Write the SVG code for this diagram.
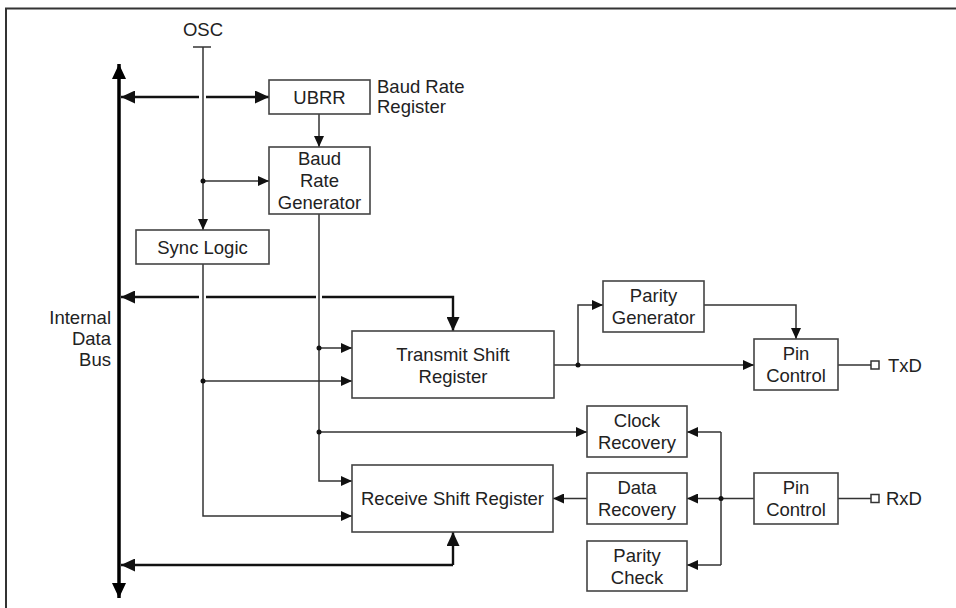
<svg xmlns="http://www.w3.org/2000/svg" width="956" height="608" viewBox="0 0 956 608">
<style>
.box{fill:#fff;stroke:#444;stroke-width:1.6}
.t{font-family:"Liberation Sans",Arial,sans-serif;font-size:18.5px;fill:#222;text-anchor:middle}
.tl{font-family:"Liberation Sans",Arial,sans-serif;font-size:18.5px;fill:#222}
.w{fill:none;stroke:#333;stroke-width:1.5}
.wa{fill:none;stroke:#333;stroke-width:1.5;marker-end:url(#ah)}
.bl{fill:none;stroke:#111;stroke-width:2.4}
.dot{fill:#111}
</style>
<defs>
<marker id="ah" viewBox="0 0 11 10" refX="11" refY="5" markerWidth="11" markerHeight="10" markerUnits="userSpaceOnUse" orient="auto"><path d="M0,0 L11,5 L0,10 z" fill="#111"/></marker>
<marker id="bh" viewBox="0 0 14 13" refX="14" refY="6.5" markerWidth="14" markerHeight="13" markerUnits="userSpaceOnUse" orient="auto-start-reverse"><path d="M0,0 L14,6.5 L0,13 z" fill="#111"/></marker>
<marker id="mh" viewBox="0 0 15 14" refX="15" refY="7" markerWidth="15" markerHeight="14" markerUnits="userSpaceOnUse" orient="auto-start-reverse"><path d="M0,0 L15,7 L0,14 z" fill="#000"/></marker>
</defs>
<rect x="0" y="0" width="956" height="608" fill="#fff"/>
<path d="M6,620 V8.5 H960" fill="none" stroke="#333" stroke-width="2"/>

<g id="connectors">
<path d="M119,598 V64" fill="none" stroke="#000" stroke-width="3.5" marker-start="url(#mh)" marker-end="url(#mh)"/>
<path class="w" d="M193,47 H211"/>
<path class="wa" d="M203,47 V230"/>
<path class="wa" d="M203,181 H269"/>
<path class="bl" d="M199,97 H121" marker-end="url(#bh)"/>
<path class="bl" d="M206,97 H269" marker-end="url(#bh)"/>
<path class="wa" d="M319,114 V147"/>
<path class="wa" d="M203,264 V516 H352"/>
<path class="wa" d="M203,381 H352"/>
<path class="wa" d="M319,214 V481 H352"/>
<path class="wa" d="M319,348 H352"/>
<path class="wa" d="M319,432 H587"/>
<path class="bl" d="M199,297 H121" marker-end="url(#bh)"/>
<path class="bl" d="M206,297 H316"/>
<path class="bl" d="M322,297 H453 V331" marker-end="url(#bh)"/>
<path class="wa" d="M554,365 H754"/>
<path class="wa" d="M578,365 V305 H603"/>
<path class="wa" d="M704,305 H796 V339"/>
<path class="w" d="M838,365 H871"/>
<rect x="871" y="361" width="8" height="8" fill="#fff" stroke="#333" stroke-width="1.5"/>
<path class="w" d="M838,498.5 H871"/>
<rect x="871" y="494.5" width="8" height="8" fill="#fff" stroke="#333" stroke-width="1.5"/>
<path class="w" d="M754,498.5 H721"/>
<path class="w" d="M721,432 V565"/>
<path class="wa" d="M721,432 H687"/>
<path class="wa" d="M721,498.5 H687"/>
<path class="wa" d="M721,565 H687"/>
<path class="wa" d="M587,498.5 H553"/>
<path class="bl" d="M453,565 H121" marker-end="url(#bh)"/>
<path class="bl" d="M453,565 V532" marker-end="url(#bh)"/>
<circle class="dot" cx="203" cy="181" r="2.5"/>
<circle class="dot" cx="203" cy="381" r="2.5"/>
<circle class="dot" cx="319" cy="348" r="2.5"/>
<circle class="dot" cx="319" cy="432" r="2.5"/>
<circle class="dot" cx="578" cy="365" r="2.5"/>
<circle class="dot" cx="721" cy="498.5" r="2.5"/>
</g>

<g id="osc"><text class="t" x="203" y="36">OSC</text></g>
<g id="bus-label">
<text class="tl" x="111" y="324" text-anchor="end">Internal</text>
<text class="tl" x="111" y="345" text-anchor="end">Data</text>
<text class="tl" x="111" y="366" text-anchor="end">Bus</text>
</g>
<g id="ubrr">
<rect class="box" x="269" y="80" width="101" height="34"/>
<text class="t" x="319.5" y="104">UBRR</text>
<text class="tl" x="377" y="93">Baud Rate</text>
<text class="tl" x="377" y="113">Register</text>
</g>
<g id="brg">
<rect class="box" x="269" y="147" width="101" height="67"/>
<text class="t" x="319.5" y="165">Baud</text>
<text class="t" x="319.5" y="187">Rate</text>
<text class="t" x="319.5" y="209">Generator</text>
</g>
<g id="sync">
<rect class="box" x="136" y="230" width="133" height="34"/>
<text class="t" x="202.5" y="253.5">Sync Logic</text>
</g>
<g id="tsr">
<rect class="box" x="352" y="331" width="202" height="67"/>
<text class="t" x="453" y="360.5">Transmit Shift</text>
<text class="t" x="453" y="382.5">Register</text>
</g>
<g id="pgen">
<rect class="box" x="603" y="281" width="101" height="51"/>
<text class="t" x="653.5" y="302">Parity</text>
<text class="t" x="653.5" y="324">Generator</text>
</g>
<g id="pin-tx">
<rect class="box" x="754" y="339" width="84" height="51"/>
<text class="t" x="796" y="360">Pin</text>
<text class="t" x="796" y="382">Control</text>
<text class="tl" x="888" y="371.5">TxD</text>
</g>
<g id="clock">
<rect class="box" x="587" y="406" width="100" height="51"/>
<text class="t" x="637" y="427">Clock</text>
<text class="t" x="637" y="449">Recovery</text>
</g>
<g id="data">
<rect class="box" x="587" y="473" width="100" height="51"/>
<text class="t" x="637" y="494">Data</text>
<text class="t" x="637" y="516">Recovery</text>
</g>
<g id="pcheck">
<rect class="box" x="587" y="541" width="100" height="50"/>
<text class="t" x="637" y="561.5">Parity</text>
<text class="t" x="637" y="583.5">Check</text>
</g>
<g id="pin-rx">
<rect class="box" x="754" y="473" width="84" height="51"/>
<text class="t" x="796" y="494">Pin</text>
<text class="t" x="796" y="516">Control</text>
<text class="tl" x="886" y="505">RxD</text>
</g>
<g id="rsr">
<rect class="box" x="352" y="465" width="201" height="67"/>
<text class="t" x="452.5" y="505">Receive Shift Register</text>
</g>
</svg>
